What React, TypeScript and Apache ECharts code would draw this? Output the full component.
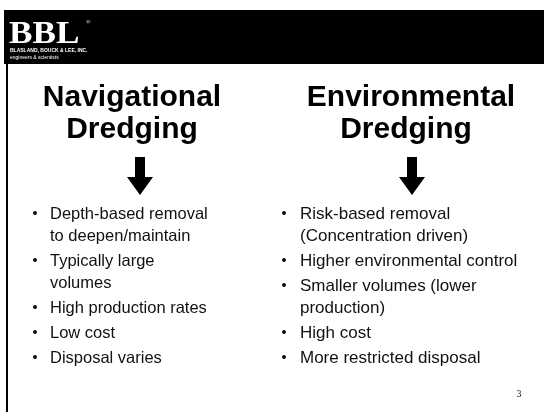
import React, { useEffect, useRef } from "react";
import * as echarts from "echarts";

const leftTitle = ["Navigational", "Dredging"];
const rightTitle = ["Environmental", "Dredging"];
const leftBullets = [
  ["Depth-based removal", "to deepen/maintain"],
  ["Typically large", "volumes"],
  ["High production rates"],
  ["Low cost"],
  ["Disposal varies"],
];
const rightBullets = [
  ["Risk-based removal", "(Concentration driven)"],
  ["Higher environmental control"],
  ["Smaller volumes (lower", "production)"],
  ["High cost"],
  ["More restricted disposal"],
];
const logoText = "BBL";
const logoLines = ["BLASLAND, BOUCK & LEE, INC.", "engineers & scientists"];
const pageNumber = "3";

const SANS = "'Liberation Sans', Arial, Helvetica, sans-serif";
const SERIF = "'Liberation Serif', 'Times New Roman', serif";

function bulletElements(items: string[][], bulletX: number, textX: number, startY: number, size: number) {
  const els: any[] = [];
  let y = startY;
  items.forEach((lines, i) => {
    if (i > 0) y += 25;
    els.push({
      type: "circle",
      shape: { cx: bulletX, cy: y, r: 2 },
      style: { fill: "#111" },
    });
    lines.forEach((ln, j) => {
      if (j > 0) y += 22;
      els.push({
        type: "text",
        x: textX,
        y: y,
        style: {
          text: ln,
          font: `${size}px ${SANS}`,
          fill: "#111",
          align: "left",
          verticalAlign: "middle",
        },
      });
    });
  });
  return els;
}

function titleElements(lines: string[], cx: number[], ys: number[]) {
  return lines.map((t, i) => ({
    type: "text",
    x: cx[i],
    y: ys[i],
    style: {
      text: t,
      font: `bold 30px ${SANS}`,
      fill: "#000",
      align: "center",
      verticalAlign: "middle",
    },
  }));
}

function arrow(cx: number, top: number, headY: number, bottom: number) {
  return {
    type: "polygon",
    shape: {
      points: [
        [cx - 5, top],
        [cx + 5, top],
        [cx + 5, headY],
        [cx + 13, headY],
        [cx, bottom],
        [cx - 13, headY],
        [cx - 5, headY],
      ],
    },
    style: { fill: "#000" },
  };
}

export default function App() {
  const ref = useRef<HTMLDivElement>(null);
  useEffect(() => {
    if (!ref.current) return;
    const chart = echarts.init(ref.current, undefined, { renderer: "svg" });
    const graphic: any[] = [
      { type: "rect", shape: { x: 0, y: 0, width: 544, height: 412 }, style: { fill: "#fff" } },
      { type: "rect", shape: { x: 4, y: 10, width: 540, height: 54 }, style: { fill: "#000" } },
      { type: "line", shape: { x1: 7, y1: 64, x2: 7, y2: 412 }, style: { stroke: "#000", lineWidth: 2 } },
      {
        type: "text",
        x: 9,
        y: 32,
        scaleX: 1.1,
        style: { text: logoText, font: `bold 32px ${SERIF}`, fill: "#fff", align: "left", verticalAlign: "middle" },
      },
      {
        type: "text",
        x: 86,
        y: 19,
        style: { text: "®", font: `6px ${SERIF}`, fill: "#fff", align: "left", verticalAlign: "top" },
      },
      {
        type: "text",
        x: 10,
        y: 50,
        style: { text: logoLines[0], font: `bold 5px ${SANS}`, fill: "#fff", align: "left", verticalAlign: "middle" },
      },
      {
        type: "text",
        x: 10,
        y: 57,
        style: { text: logoLines[1], font: `5px ${SANS}`, fill: "#fff", align: "left", verticalAlign: "middle" },
      },
      ...titleElements(leftTitle, [132, 132], [95, 127]),
      ...titleElements(rightTitle, [411, 406], [95, 127]),
      arrow(140, 157, 177, 195),
      arrow(412, 157, 177, 195),
      ...bulletElements(leftBullets, 35, 50, 213, 16.5),
      ...bulletElements(rightBullets, 284, 300, 213, 17),
      {
        type: "text",
        x: 519,
        y: 393,
        style: { text: pageNumber, font: `10px ${SERIF}`, fill: "#111", align: "center", verticalAlign: "middle" },
      },
    ];
    chart.setOption({ animation: false, graphic });
    return () => chart.dispose();
  }, []);
  return (
    <div
      ref={ref}
      style={{ position: "fixed", left: 0, top: 0, width: 544, height: 412 }}
    />
  );
}
